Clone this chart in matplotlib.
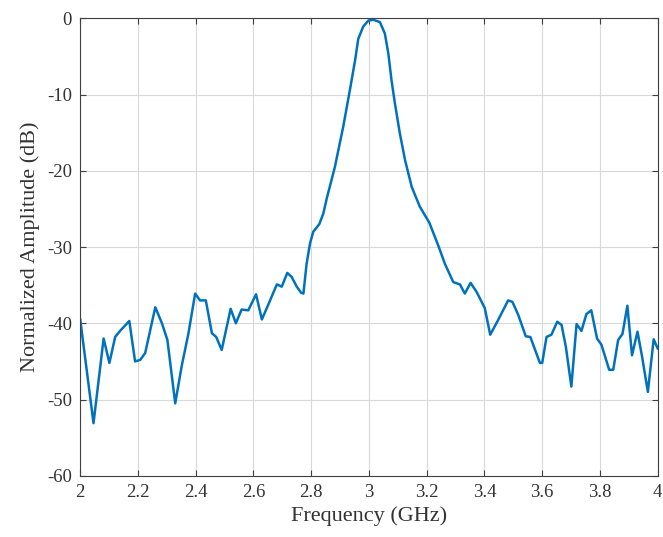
import numpy as np
import matplotlib
matplotlib.use("Agg")
import matplotlib.pyplot as plt

# 読み取った値 (GHz, dB)
freq = [2.000, 2.046, 2.081, 2.101, 2.121, 2.138, 2.170, 2.190, 2.208, 2.225,
        2.260, 2.283, 2.302, 2.329, 2.352, 2.375, 2.398, 2.415, 2.435, 2.456,
        2.471, 2.490, 2.521, 2.539, 2.559, 2.582, 2.609, 2.629, 2.652, 2.681,
        2.698, 2.717, 2.732, 2.750, 2.765, 2.773, 2.784, 2.796, 2.807, 2.828,
        2.842, 2.854, 2.882, 2.911, 2.934, 2.952, 2.963, 2.980, 2.998, 3.015,
        3.038, 3.055, 3.067, 3.078, 3.090, 3.107, 3.125, 3.148, 3.176, 3.209,
        3.240, 3.263, 3.292, 3.315, 3.332, 3.352, 3.373, 3.401, 3.420, 3.447,
        3.482, 3.497, 3.517, 3.543, 3.559, 3.592, 3.600, 3.615, 3.632, 3.652,
        3.667, 3.682, 3.701, 3.719, 3.736, 3.753, 3.770, 3.790, 3.805, 3.832,
        3.846, 3.863, 3.878, 3.895, 3.911, 3.930, 3.946, 3.966, 3.986, 4.000]
amp = [-39.5, -53.1, -42.0, -45.2, -41.8, -41.0, -39.7, -45.0, -44.8, -43.9,
       -37.9, -40.0, -42.2, -50.5, -45.5, -41.3, -36.1, -37.0, -37.0, -41.3,
       -41.8, -43.5, -38.1, -40.0, -38.2, -38.3, -36.2, -39.5, -37.5, -34.9,
       -35.2, -33.4, -33.9, -35.2, -36.0, -36.1, -32.2, -29.5, -28.0, -27.0,
       -25.6, -23.6, -19.5, -14.2, -9.4, -5.5, -2.7, -1.1, -0.3, -0.2,
       -0.5, -2.0, -4.6, -8.1, -11.2, -15.1, -18.6, -22.1, -24.7, -26.8,
       -29.8, -32.2, -34.6, -34.9, -36.1, -34.7, -35.9, -38.0, -41.5, -39.6,
       -37.0, -37.2, -38.9, -41.7, -41.8, -45.2, -45.2, -41.8, -41.5, -39.8,
       -40.2, -43.1, -48.3, -40.1, -41.0, -38.8, -38.3, -42.0, -42.8, -46.1,
       -46.1, -42.2, -41.4, -37.7, -44.2, -41.1, -44.4, -49.0, -42.1, -43.3]

xticks = [2, 2.2, 2.4, 2.6, 2.8, 3, 3.2, 3.4, 3.6, 3.8, 4]
xticklabels = ['2', '2.2', '2.4', '2.6', '2.8', '3', '3.2', '3.4', '3.6', '3.8', '4']
yticks = [-60, -50, -40, -30, -20, -10, 0]

plt.rcParams['font.family'] = ['Liberation Serif', 'DejaVu Serif']
plt.rcParams['axes.unicode_minus'] = False

fig = plt.figure(figsize=(6.63, 5.37), dpi=100)
ax = fig.add_axes([0.121, 0.114, 0.871, 0.852])

ax.plot(freq, amp, color='#0072BD', linewidth=1.8)

ax.set_xlim(2, 4)
ax.set_ylim(-60, 0)
ax.set_xticks(xticks)
ax.set_xticklabels(xticklabels)
ax.set_yticks(yticks)
ax.grid(True, color='#d9d9d9', linewidth=0.8)
ax.set_axisbelow(True)

for s in ax.spines.values():
    s.set_color('#404040')
    s.set_linewidth(0.8)
ax.tick_params(direction='in', top=True, right=True, length=4, pad=6,
               colors='#404040', labelsize=13.5, labelcolor='#333333')

ax.set_xlabel('Frequency (GHz)', fontsize=16, color='#333333', labelpad=4)
ax.set_ylabel('Normalized Amplitude (dB)', fontsize=16, color='#333333', labelpad=5)

fig.savefig('out.png', dpi=100)
